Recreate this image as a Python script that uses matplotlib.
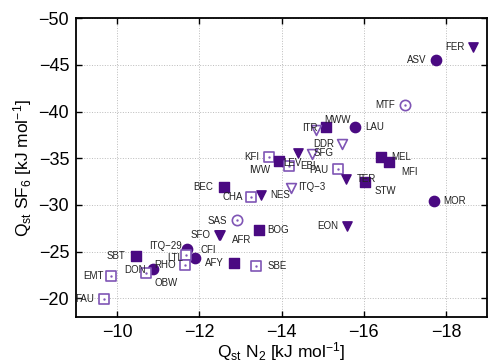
"""Isosteric heat of adsorption: SF6 vs N2 for a set of zeolite frameworks."""

import matplotlib
matplotlib.use("Agg")
import matplotlib.pyplot as plt

plt.rcParams["font.family"] = ["Liberation Sans", "DejaVu Sans"]
plt.rcParams["mathtext.fontset"] = "custom"
plt.rcParams["mathtext.rm"] = "Liberation Sans"
plt.rcParams["mathtext.it"] = "Liberation Sans:italic"

# framework codes, Qst N2 and Qst SF6 in kJ/mol, marker kind
names = ["FER", "ASV", "MTF", "MWW", "ITR", "LAU", "DDR", "SFG", "EBI", "KFI",
         "IWW", "LEV", "PAU", "MEL", "MFI", "TER", "STW", "MOR", "ITQ\u22123", "NES",
         "CHA", "BOG", "EON", "SBE", "BEC", "SAS", "SFO", "AFR", "ITQ\u221229", "CFI",
         "LTL", "RHO", "AFY", "SBT", "DON", "OBW", "EMT", "FAU"]
qst_n2 = [-18.66, -17.76, -17.0, -15.09, -14.84, -15.79, -15.47, -14.74, -14.40, -13.70,
          -13.94, -14.18, -15.38, -16.42, -16.62, -15.57, -16.03, -17.71, -14.24, -13.50,
          -13.26, -13.45, -15.60, -13.38, -12.60, -12.92, -12.48, -12.50, -11.70, -11.90,
          -11.68, -11.65, -12.85, -10.46, -10.88, -10.70, -9.85, -9.68]
qst_sf6 = [-46.9, -45.5, -40.7, -38.35, -38.0, -38.35, -36.5, -35.5, -35.6, -35.15,
           -34.7, -34.2, -33.8, -35.15, -34.6, -32.8, -32.5, -30.45, -31.8, -31.1,
           -30.9, -27.35, -27.8, -23.5, -31.9, -28.4, -26.8, -26.8, -25.3, -24.35,
           -24.7, -23.6, -23.8, -24.5, -23.2, -22.75, -22.4, -19.9]
kinds = ["ft", "fc", "oc", "fs", "ot", "fc", "ot", "ot", "ft", "os",
         "fs", "os", "os", "fs", "fs", "ft", "fs", "fc", "ot", "ft",
         "os", "fs", "ft", "os", "fs", "oc", "ft", "ft", "fc", "fc",
         "os", "os", "fs", "fs", "fc", "os", "os", "os"]

DARK = "#4a0a82"
LIGHT = "#7f55b5"
STYLES = {
    "fc": dict(marker="o", s=55, color=DARK),
    "fs": dict(marker="s", s=50, color=DARK),
    "ft": dict(marker="v", s=45, color=DARK),
    "oc": dict(marker="o", s=55, facecolors="white", edgecolors=LIGHT, linewidths=1.2),
    "os": dict(marker="s", s=55, facecolors="white", edgecolors=LIGHT, linewidths=1.2),
    "ot": dict(marker="v", s=50, facecolors="white", edgecolors=LIGHT, linewidths=1.2),
}

# label placement (dx, dy in pixels, alignment)
LABEL_POS = {
    "FER": (-8, 0, "right"), "ASV": (-10, 0, "right"), "MTF": (-10, 0, "right"),
    "MWW": (-2, 7, "left"), "ITR": (2, 2, "right"), "LAU": (10, 0, "left"),
    "DDR": (-8, 0, "right"), "SFG": (2, 1, "left"), "EBI": (2, -13, "left"),
    "KFI": (-10, 0, "right"), "IWW": (-9, -9, "right"), "LEV": (-6, 3, "left"),
    "PAU": (-10, -1, "right"), "MEL": (10, 0, "left"), "MFI": (12, -10, "left"),
    "TER": (11, 0, "left"), "STW": (10, -9, "left"), "MOR": (9, 0, "left"),
    "ITQ\u22123": (7, 1, "left"), "NES": (9, 0, "left"), "CHA": (-8, 0, "right"),
    "BOG": (8, 0, "left"), "EON": (-9, 0, "right"), "SBE": (11, 0, "left"),
    "BEC": (-11, 0, "right"), "SAS": (-10, -1, "right"), "SFO": (-9, 0, "right"),
    "AFR": (12, -5, "left"), "ITQ\u221229": (-5, 3, "right"), "CFI": (5, 8, "left"),
    "LTL": (-3, -3, "right"), "RHO": (-9, 0, "right"), "AFY": (-10, 0, "right"),
    "SBT": (-11, 0, "right"), "DON": (-8, -1, "right"), "OBW": (9, -10, "left"),
    "EMT": (-7, 0, "right"), "FAU": (-10, 0, "right"),
}

fig = plt.figure(figsize=(4.88, 3.62), dpi=100)
ax = fig.add_axes([0.156, 0.124, 0.842, 0.826])

for name, x, y, k in zip(names, qst_n2, qst_sf6, kinds):
    ax.scatter([x], [y], zorder=3, **STYLES[k])
    if k in ("oc", "os"):
        # small centre dot, as in the original open markers
        ax.scatter([x], [y], marker=".", s=2, color=LIGHT, zorder=4)
    dx, dy, ha = LABEL_POS[name]
    ax.annotate(name, (x, y), xytext=(dx, dy), textcoords="offset pixels",
                ha=ha, va="center", fontsize=7, color="#222222", zorder=5)

ax.set_xlim(-9, -19)
ax.set_ylim(-18, -50)
ax.set_xticks([-10, -12, -14, -16, -18])
ax.set_yticks([-20, -25, -30, -35, -40, -45, -50])
ax.tick_params(direction="in", length=4, width=1, top=True, right=True,
               labelsize=13, pad=5)
for sp in ax.spines.values():
    sp.set_linewidth(1.3)
ax.grid(True, color="#bbbbbb", linestyle=":", linewidth=0.7)
ax.set_axisbelow(True)

ax.set_xlabel(r"Q$_{\rm st}$ N$_2$ [kJ mol$^{-1}$]", fontsize=12.5, labelpad=-1)
ax.set_ylabel(r"Q$_{\rm st}$ SF$_6$ [kJ mol$^{-1}$]", fontsize=12.5, labelpad=3)

fig.savefig("out.png", dpi=100)
